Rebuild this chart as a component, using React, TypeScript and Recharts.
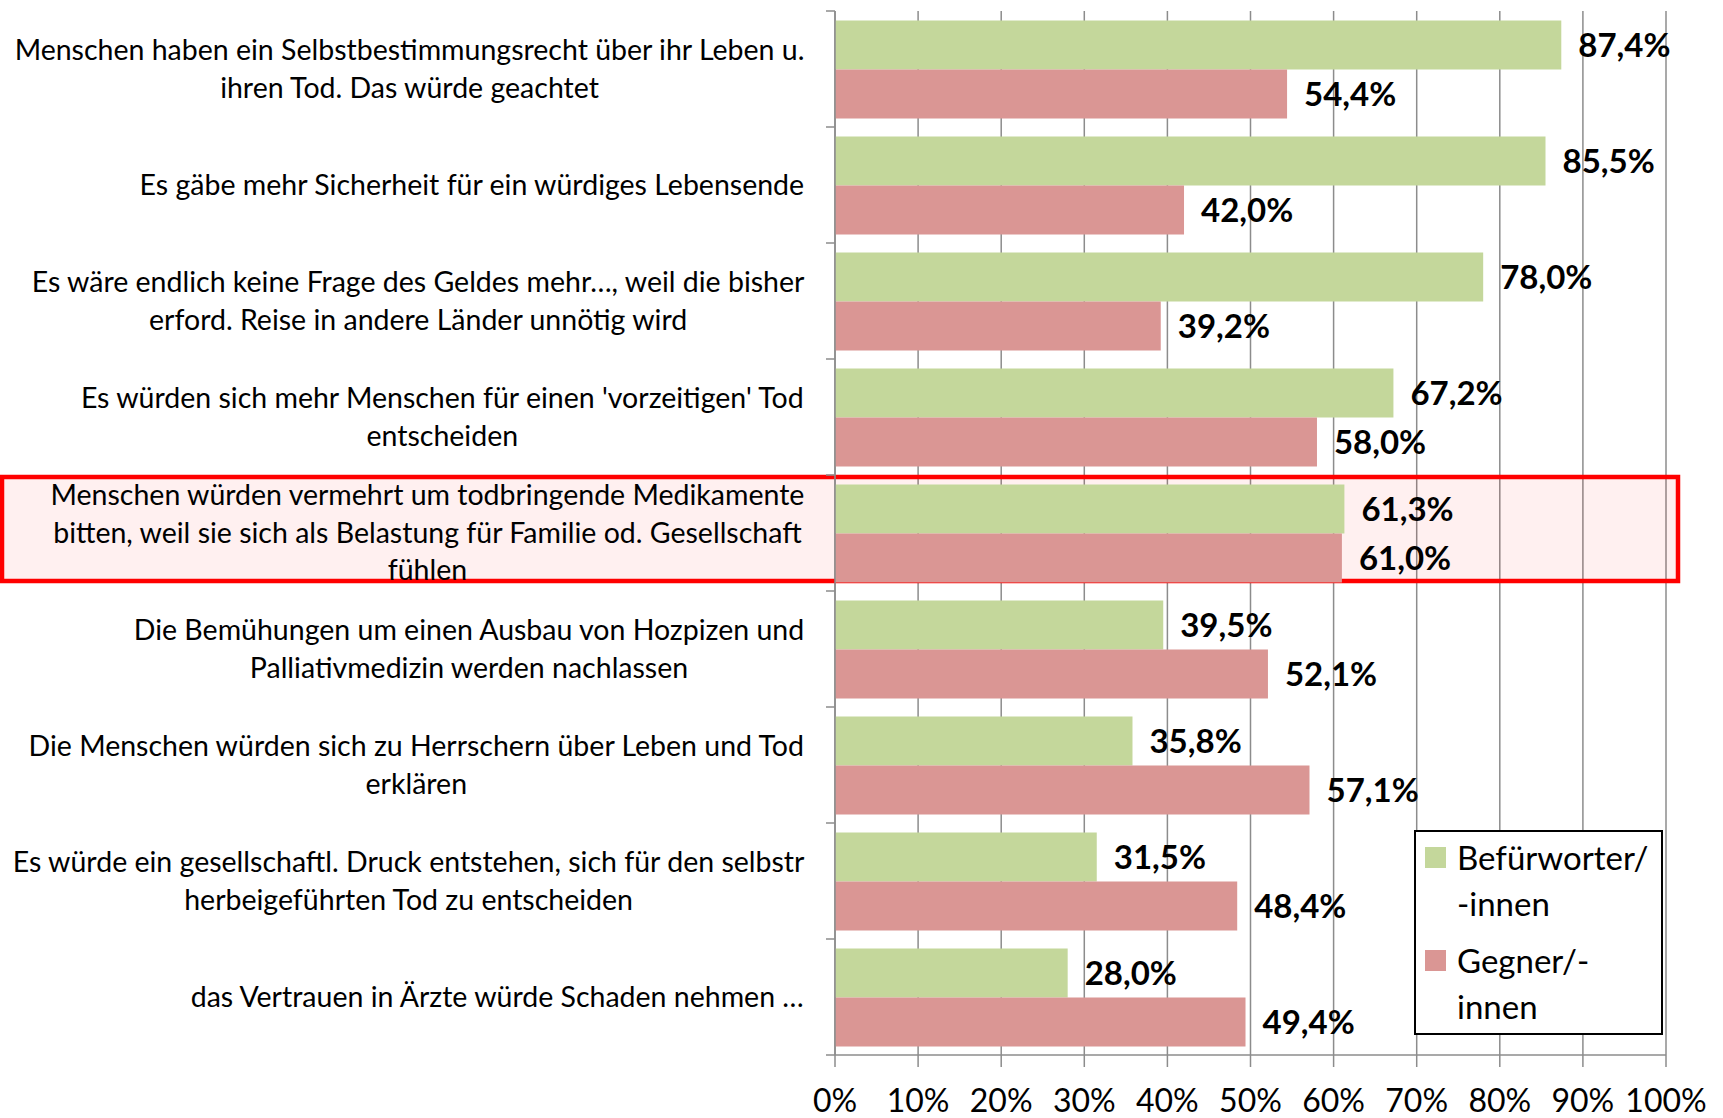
import React from "react";
import { BarChart, Bar, XAxis, YAxis, CartesianGrid, Legend, LabelList, ReferenceArea } from "recharts";

const categories = [
  "Menschen haben ein Selbstbestimmungsrecht über ihr Leben u.\nihren Tod. Das würde geachtet",
  "Es gäbe mehr Sicherheit für ein würdiges Lebensende",
  "Es wäre endlich keine Frage des Geldes mehr…, weil die bisher\nerford. Reise in andere Länder unnötig wird",
  "Es würden sich mehr Menschen für einen 'vorzeitigen' Tod\nentscheiden",
  "Menschen würden vermehrt um todbringende Medikamente\nbitten, weil sie sich als Belastung für Familie od. Gesellschaft\nfühlen",
  "Die Bemühungen um einen Ausbau von Hozpizen und\nPalliativmedizin werden nachlassen",
  "Die Menschen würden sich zu Herrschern über Leben und Tod\nerklären",
  "Es würde ein gesellschaftl. Druck entstehen, sich für den selbstr\nherbeigeführten Tod zu entscheiden",
  "das Vertrauen in Ärzte würde Schaden nehmen …",
];
const befuerworter = [87.4, 85.5, 78.0, 67.2, 61.3, 39.5, 35.8, 31.5, 28.0];
const gegner = [54.4, 42.0, 39.2, 58.0, 61.0, 52.1, 57.1, 48.4, 49.4];
const xTicks = [0, 10, 20, 30, 40, 50, 60, 70, 80, 90, 100];
const seriesNames = ["Befürworter/\n-innen", "Gegner/-\ninnen"];
const highlightedIndex = 4;

const data = categories.map((label, i) => ({ label, pro: befuerworter[i], contra: gegner[i] }));

const FONT = "Lato, 'Open Sans', sans-serif";
const GRID = "#8c8c8c";
const GREEN = "#c4d79b";
const RED = "#da9694";
const CAT_FONT_SIZE = 28.5;
const LINE_H = 37.5;
const LABEL_GAP = 30;

let measureCtx: CanvasRenderingContext2D | null = null;
function textWidth(s: string) {
  if (!measureCtx) measureCtx = document.createElement("canvas").getContext("2d");
  if (!measureCtx) return s.length * 13;
  measureCtx.font = `${CAT_FONT_SIZE}px Lato`;
  return measureCtx.measureText(s).width;
}

function CategoryTick(props: any) {
  const { x, y, payload, index } = props;
  const lines = String(payload.value).split("\n");
  const widest = Math.max(...lines.map(textWidth));
  const cx = x - widest / 2;
  const half = payload.offset || 0;
  const axisX = x + LABEL_GAP;
  return (
    <g>
      {half > 0 && (
        <line x1={axisX - 9} x2={axisX} y1={y - half} y2={y - half} stroke={GRID} strokeWidth={1.5} />
      )}
      {half > 0 && index === categories.length - 1 && (
        <line x1={axisX - 9} x2={axisX} y1={y + half} y2={y + half} stroke={GRID} strokeWidth={1.5} />
      )}
      <text textAnchor="middle" fontFamily={FONT} fontSize={CAT_FONT_SIZE} fill="#000">
        {lines.map((l, i) => (
          <tspan key={i} x={cx} y={y + (i - (lines.length - 1) / 2) * LINE_H} dy="0.35em">
            {l}
          </tspan>
        ))}
      </text>
    </g>
  );
}

function HighlightBox(props: any) {
  const { x, y, width, height } = props;
  return (
    <rect
      x={2}
      y={y + 2}
      width={x + width + 12 - 2}
      height={height - 12}
      fill="#ff0000"
      fillOpacity={0.06}
      stroke="#ff0000"
      strokeWidth={4.5}
    />
  );
}

function LegendBox() {
  const colors = [GREEN, RED];
  return (
    <div
      style={{
        width: 249,
        height: 205,
        border: "2px solid #000",
        boxSizing: "border-box",
        background: "#fff",
        fontFamily: FONT,
        fontSize: 33,
        lineHeight: "46px",
        padding: "2px 0 0 9px",
        color: "#000",
      }}
    >
      {seriesNames.map((name, i) => (
        <div key={name} style={{ display: "flex", alignItems: "flex-start", marginTop: i === 0 ? 0 : 11 }}>
          <div style={{ width: 21, height: 21, background: colors[i], marginTop: 13, marginRight: 11, flexShrink: 0 }} />
          <div style={{ whiteSpace: "pre-line" }}>{name}</div>
        </div>
      ))}
    </div>
  );
}

const fmt = (v: any) => Number(v).toFixed(1).replace(".", ",") + "%";

export default function App() {
  return (
    <div style={{ position: "absolute", left: 0, top: 0, width: 1723, height: 1118, background: "#fff" }}>
      <BarChart
        width={1723}
        height={1118}
        data={data}
        layout="vertical"
        margin={{ top: 11, right: 57, bottom: 0, left: 0 }}
        barCategoryGap={9.5}
        barGap={0}
      >
        <CartesianGrid horizontal={false} stroke={GRID} strokeWidth={1.5} />
        <XAxis
          type="number"
          domain={[0, 100]}
          ticks={xTicks}
          tickFormatter={(v) => `${v}%`}
          height={63}
          stroke={GRID}
          strokeWidth={1.5}
          tickSize={12}
          tickMargin={22}
          tick={{ fontSize: 32, fill: "#000", fontFamily: FONT }}
        />
        <YAxis
          type="category"
          dataKey="label"
          width={835}
          interval={0}
          tickLine={false}
          tickSize={0}
          tickMargin={LABEL_GAP}
          stroke={GRID}
          strokeWidth={1.5}
          tick={<CategoryTick />}
        />
        <ReferenceArea
          y1={categories[highlightedIndex]}
          y2={categories[highlightedIndex]}
          ifOverflow="visible"
          shape={<HighlightBox />}
        />
        <Bar dataKey="pro" name="Befürworter/-innen" fill={GREEN} isAnimationActive={false}>
          <LabelList dataKey="pro" position="right" offset={17} formatter={fmt} fill="#000" fontSize={33} fontWeight={700} fontFamily={FONT} />
        </Bar>
        <Bar dataKey="contra" name="Gegner/-innen" fill={RED} isAnimationActive={false}>
          <LabelList dataKey="contra" position="right" offset={17} formatter={fmt} fill="#000" fontSize={33} fontWeight={700} fontFamily={FONT} />
        </Bar>
        <Legend
          layout="vertical"
          align="center"
          verticalAlign="middle"
          wrapperStyle={{ left: 1414, top: 830, width: 249, height: 205 }}
          content={() => <LegendBox />}
        />
      </BarChart>
    </div>
  );
}
